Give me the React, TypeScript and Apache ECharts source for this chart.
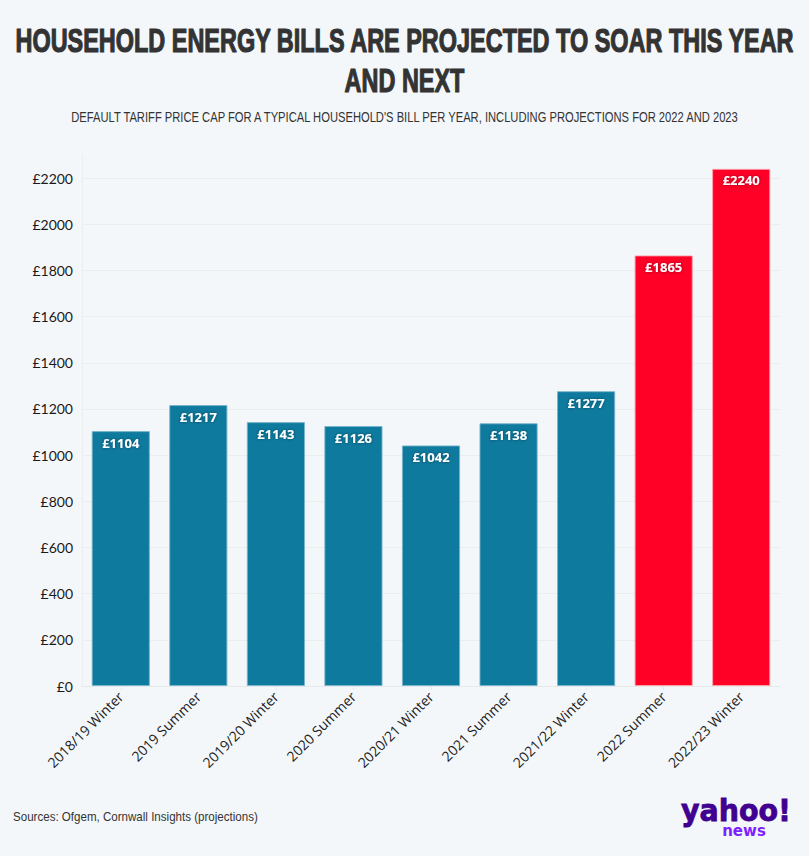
import React, { useEffect, useRef } from "react";
import * as echarts from "echarts";

const categories = [
  "2018/19 Winter",
  "2019 Summer",
  "2019/20 Winter",
  "2020 Summer",
  "2020/21 Winter",
  "2021 Summer",
  "2021/22 Winter",
  "2022 Summer",
  "2022/23 Winter",
];
const values = [1104, 1217, 1143, 1126, 1042, 1138, 1277, 1865, 2240];
const projected = [false, false, false, false, false, false, false, true, true];
const yTicks = [0, 200, 400, 600, 800, 1000, 1200, 1400, 1600, 1800, 2000, 2200];

const titleLines = ["HOUSEHOLD ENERGY BILLS ARE PROJECTED TO SOAR THIS YEAR", "AND NEXT"];
const subtitle =
  "DEFAULT TARIFF PRICE CAP FOR A TYPICAL HOUSEHOLD'S BILL PER YEAR, INCLUDING PROJECTIONS FOR 2022 AND 2023";
const source = "Sources: Ofgem, Cornwall Insights (projections)";

const TEAL = "#0E7A9E";
const RED = "#FF0026";
const BG = "#F4F7FA";

export default function App() {
  const ref = useRef<HTMLDivElement>(null);
  useEffect(() => {
    document.body.style.margin = "0";
    document.body.style.background = BG;
    if (!ref.current) return;
    const chart = echarts.init(ref.current, null, { renderer: "svg" });
    const splitColors = yTicks.map(() => "#EBEDEF").concat(["rgba(0,0,0,0)"]);
    const titleStyle = {
      fontFamily: "Liberation Sans",
      fontWeight: "bold",
      fontSize: 34,
      fill: "#333",
      stroke: "#333",
      lineWidth: 1.2,
      align: "center",
      verticalAlign: "middle",
    };
    chart.setOption({
      animation: false,
      backgroundColor: BG,
      grid: { left: 82, right: 29, top: 155, bottom: 170 },
      xAxis: {
        type: "category",
        data: categories,
        axisLine: { show: true, lineStyle: { color: "#E6E8EA", width: 1 } },
        axisTick: { show: true, alignWithLabel: true, length: 4, lineStyle: { color: "#E6E8EA" } },
        axisLabel: {
          rotate: 45,
          interval: 0,
          margin: 8,
          fontFamily: "Open Sans",
          fontSize: 14,
          color: "#222",
        },
      },
      yAxis: {
        type: "value",
        min: 0,
        max: 2300,
        interval: 200,
        axisLine: { show: true, lineStyle: { color: "#ECEEF0" } },
        axisTick: { show: false },
        axisLabel: {
          showMaxLabel: false,
          margin: 9,
          fontFamily: "Lato",
          fontSize: 14,
          color: "#1a1a1a",
          formatter: (v: number) => (v > 2200 ? "" : "£" + v),
        },
        splitLine: { show: true, lineStyle: { color: splitColors, width: 1 } },
      },
      series: [
        {
          type: "bar",
          barCategoryGap: "25%",
          data: values.map((v, i) => ({
            value: v,
            itemStyle: {
              color: projected[i] ? RED : TEAL,
              borderColor: projected[i] ? "rgba(255,160,170,0.9)" : "rgba(120,180,205,0.9)",
              borderWidth: 1,
            },
          })),
          label: {
            show: true,
            position: "insideTop",
            distance: 5,
            formatter: (p: any) => "£" + p.value,
            color: "#fff",
            fontFamily: "Noto Sans",
            fontWeight: "bold",
            fontSize: 13,
            textShadowColor: "rgba(0,0,0,0.45)",
            textShadowBlur: 3,
          },
        },
      ],
      graphic: [
        {
          type: "text",
          x: 404.5,
          y: 40,
          scaleX: 0.69,
          style: { ...titleStyle, text: titleLines[0] },
        },
        {
          type: "text",
          x: 404.5,
          y: 80,
          scaleX: 0.69,
          style: { ...titleStyle, text: titleLines[1] },
        },
        {
          type: "text",
          x: 404.5,
          y: 118,
          scaleX: 0.8,
          style: {
            text: subtitle,
            fontFamily: "Liberation Sans",
            fontSize: 14,
            fill: "#333",
            align: "center",
            verticalAlign: "middle",
          },
        },
        {
          type: "text",
          x: 13,
          y: 817,
          scaleX: 0.89,
          style: {
            text: source,
            fontFamily: "Liberation Sans",
            fontSize: 13,
            fill: "#333",
            align: "left",
            verticalAlign: "middle",
          },
        },
        {
          type: "text",
          x: 736,
          y: 811,
          scaleX: 0.95,
          style: {
            text: "yahoo!",
            fontFamily: "DejaVu Sans",
            fontWeight: "bold",
            fontSize: 30,
            fill: "#400090",
            stroke: "#400090",
            lineWidth: 0.8,
            align: "center",
            verticalAlign: "middle",
          },
        },
        {
          type: "text",
          x: 744,
          y: 831,
          style: {
            text: "news",
            fontFamily: "DejaVu Sans",
            fontWeight: "bold",
            fontSize: 15,
            fill: "#7E1FFF",
            align: "center",
            verticalAlign: "middle",
          },
        },
      ],
    });
    return () => chart.dispose();
  }, []);
  return <div ref={ref} style={{ width: 809, height: 856 }} />;
}
